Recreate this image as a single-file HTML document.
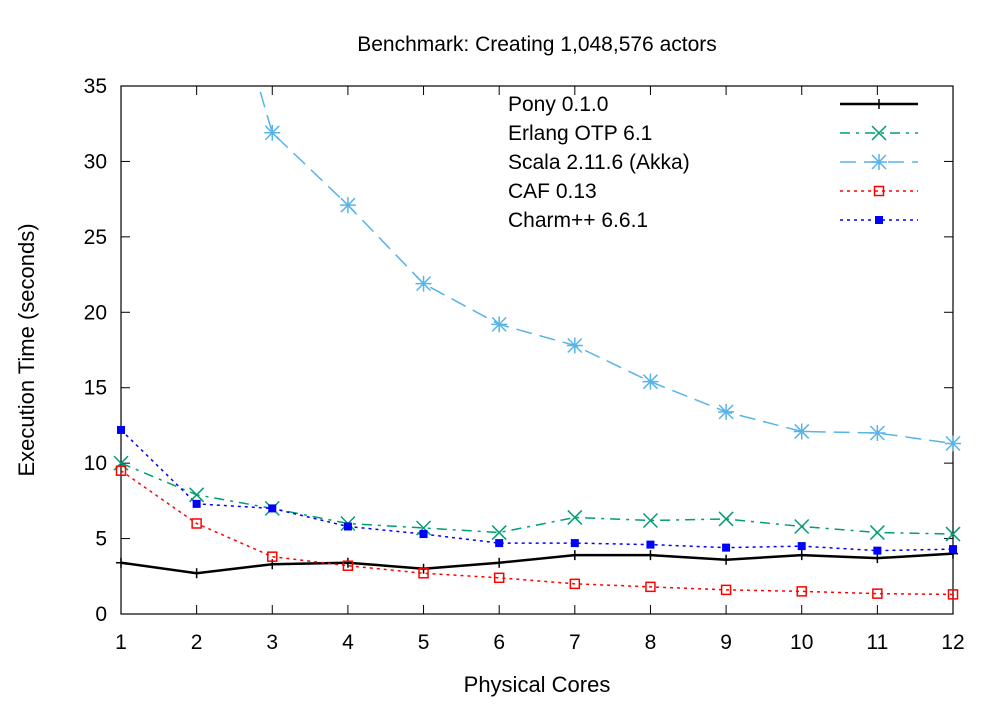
<!DOCTYPE html>
<html><head><meta charset="utf-8"><style>
body{margin:0;background:#fff;}
svg text{font-family:"Liberation Sans",sans-serif;fill:#000;}
</style></head><body>
<svg width="1002" height="705" viewBox="0 0 1002 705">
<rect width="1002" height="705" fill="#fff"/>
<defs><clipPath id="pc"><rect x="121" y="86" width="832" height="528"/></clipPath></defs>
<g id="axes"></g>
<g id="series-lines" clip-path="url(#pc)"></g>
<g id="series-marks"></g>
<g id="legend"></g>
<text x="537" y="51" font-size="21" text-anchor="middle">Benchmark: Creating 1,048,576 actors</text>
<text x="537" y="692" font-size="22" text-anchor="middle">Physical Cores</text>
<text transform="translate(34,350) rotate(-90)" font-size="22" text-anchor="middle">Execution Time (seconds)</text>
</svg>
<script>
const cores=[1,2,3,4,5,6,7,8,9,10,11,12];
const yTicks=[0,5,10,15,20,25,30,35];
const seriesNames=["Pony 0.1.0","Erlang OTP 6.1","Scala 2.11.6 (Akka)","CAF 0.13","Charm++ 6.6.1"];
const pony=[3.4,2.7,3.3,3.4,3.0,3.4,3.9,3.9,3.6,3.9,3.7,4.0];
const erlang=[10.0,7.9,7.0,6.0,5.7,5.4,6.4,6.2,6.3,5.8,5.4,5.3];
const scala=[70,49,31.9,27.1,21.9,19.2,17.8,15.4,13.4,12.1,12.0,11.3];
const caf=[9.5,6.0,3.8,3.2,2.7,2.4,2.0,1.8,1.6,1.5,1.35,1.3];
const charm=[12.2,7.3,7.0,5.8,5.3,4.7,4.7,4.6,4.4,4.5,4.2,4.3];
const L=121,R=953,T=86,B=614,YMAX=35;
const xs=v=>L+(v-1)*(R-L)/11, ys=v=>B-v*(B-T)/YMAX;
const NS="http://www.w3.org/2000/svg";
function mk(t,a,p){const e=document.createElementNS(NS,t);for(const k in a)e.setAttribute(k,a[k]);p.appendChild(e);return e;}
const ax=document.getElementById('axes');
const frame=mk('rect',{x:L,y:T,width:R-L,height:B-T,fill:'none',stroke:'#000','stroke-width':1.2},ax);

yTicks.forEach(v=>{const y=ys(v);
mk('line',{x1:L,x2:L+9,y1:y,y2:y,stroke:'#000'},ax);mk('line',{x1:R,x2:R-9,y1:y,y2:y,stroke:'#000'},ax);
const t=mk('text',{x:L-14,y:y+7,'font-size':21,'text-anchor':'end'},ax);t.textContent=v;
});
cores.forEach(v=>{const x=xs(v);
mk('line',{x1:x,x2:x,y1:B,y2:B-9,stroke:'#000'},ax);mk('line',{x1:x,x2:x,y1:T,y2:T+9,stroke:'#000'},ax);
const t=mk('text',{x:x,y:B+35,'font-size':21,'text-anchor':'middle'},ax);t.textContent=v;
});
const styles=[
{d:pony,c:'#000',dash:'',w:2.5,m:'plus'},
{d:erlang,c:'#009e73',dash:'10,6,3,6',w:1.5,m:'x'},
{d:scala,c:'#56b4e9',dash:'16,8',w:1.5,m:'star'},
{d:caf,c:'#ff0000',dash:'3,4',w:1.5,m:'sq'},
{d:charm,c:'#0000ff',dash:'3,4',w:1.5,m:'fsq'}];
function marker(g,m,x,y,c){
if(m==='plus'){mk('path',{d:`M${x-5},${y}h10M${x},${y-5}v10`,stroke:c,'stroke-width':1.5},g);}
else if(m==='x'){mk('path',{d:`M${x-7},${y-7}L${x+7},${y+7}M${x-7},${y+7}L${x+7},${y-7}`,stroke:c,'stroke-width':1.5},g);}
else if(m==='star'){mk('path',{d:`M${x-7},${y-7}L${x+7},${y+7}M${x-7},${y+7}L${x+7},${y-7}M${x-8},${y}h16M${x},${y-8}v16`,stroke:c,'stroke-width':1.5},g);}
else if(m==='sq'){mk('rect',{x:x-4.5,y:y-4.5,width:9,height:9,fill:'none',stroke:c,'stroke-width':1.5},g);}
else {mk('rect',{x:x-4,y:y-4,width:8,height:8,fill:c},g);}}
const sl=document.getElementById('series-lines'),sm=document.getElementById('series-marks'),lg=document.getElementById('legend');
styles.forEach((s,i)=>{
const p=mk('polyline',{points:s.d.map((v,j)=>xs(cores[j])+','+ys(v)).join(' '),fill:'none',stroke:s.c,'stroke-width':s.w,'stroke-dasharray':s.dash},sl);

const g=mk('g',{},sm);

s.d.forEach((v,j)=>{if(v<=YMAX)marker(g,s.m,xs(cores[j]),ys(v),s.c);});
const ly=104+i*29;
const le=mk('g',{},lg);

const t=mk('text',{x:508,y:ly+7,'font-size':21},le);t.textContent=seriesNames[i];
mk('line',{x1:840,x2:918,y1:ly,y2:ly,stroke:s.c,'stroke-width':s.w,'stroke-dasharray':s.dash},le);
marker(le,s.m,879,ly,s.c);});
</script>
</body></html>
